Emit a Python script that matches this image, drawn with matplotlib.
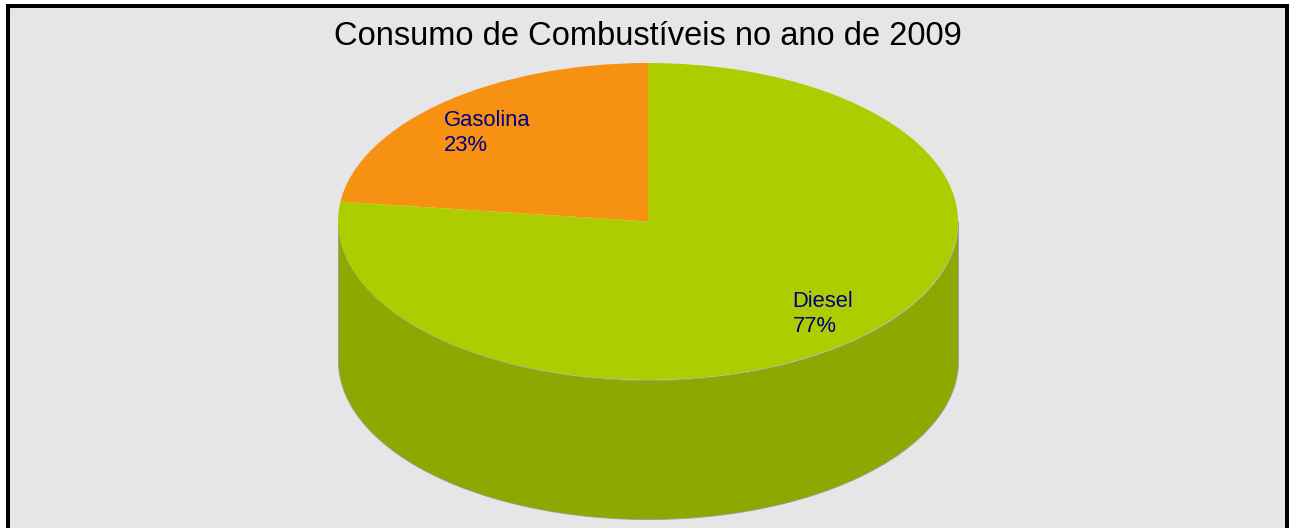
import numpy as np
import matplotlib
matplotlib.use("Agg")
import matplotlib.pyplot as plt
from matplotlib.patches import Wedge, Rectangle
from matplotlib.transforms import Affine2D

# data
labels = ["Gasolina", "Diesel"]
values = [23, 77]
colors_top = ["#f79112", "#adcd00"]
colors_side = ["#c8700a", "#8da800"]

title = "Consumo de Combustíveis no ano de 2009"

plt.rcParams['font.family'] = ['Liberation Sans', 'DejaVu Sans']

W, H = 1289, 528
fig = plt.figure(figsize=(W / 100, H / 100), dpi=100)
fig.patch.set_facecolor("white")
ax = fig.add_axes([0, 0, 1, 1])
ax.set_xlim(0, W)
ax.set_ylim(H, 0)
ax.axis("off")

# chart area with black frame
ax.add_patch(Rectangle((8, 6), 1279, 540, facecolor="#e6e6e6",
                       edgecolor="black", linewidth=2.9, zorder=0))

# pie geometry (pixels)
cx, cy = 648, 221.5
a, b = 310, 158.5
depth = 139

ell = Affine2D().scale(a, -b).translate(cx, cy) + ax.transData

total = float(sum(values))
start = 90.0
spans = []
for v in values:
    sweep = 360.0 * v / total
    spans.append((start, start + sweep))
    start += sweep

# side walls (only front half, 180..360 degrees, is visible)
for (t1, t2), col in zip(spans, colors_side):
    for shift in (0, 360, -360):
        lo = max(t1 + shift, 180)
        hi = min(t2 + shift, 360)
        if hi > lo:
            t = np.radians(np.linspace(lo, hi, 200))
            x = cx + a * np.cos(t)
            ytop = cy - b * np.sin(t)
            ax.fill_between(x, ytop, ytop + depth, color=col,
                            linewidth=0.6, edgecolor="#9a9a9a", zorder=1)

# top surface
for (t1, t2), col in zip(spans, colors_top):
    ax.add_patch(Wedge((0, 0), 1, t1, t2, facecolor=col, edgecolor="none",
                       transform=ell, zorder=2))

# labels
for (t1, t2), lab, v in zip(spans, labels, values):
    mid = np.radians((t1 + t2) / 2)
    lx = cx + 7 + 0.82 * a * np.cos(mid)
    ly = cy + 2 - 0.757 * b * np.sin(mid)
    ax.text(lx, ly, f"{lab}\n{v}%", ha="center", va="center",
            multialignment="left", fontsize=15.8, color="#000080",
            linespacing=1.25, zorder=3)

ax.text(648, 45, title, ha="center", va="baseline", fontsize=23.5,
        color="black", zorder=3)

fig.savefig("out.png", dpi=100)
